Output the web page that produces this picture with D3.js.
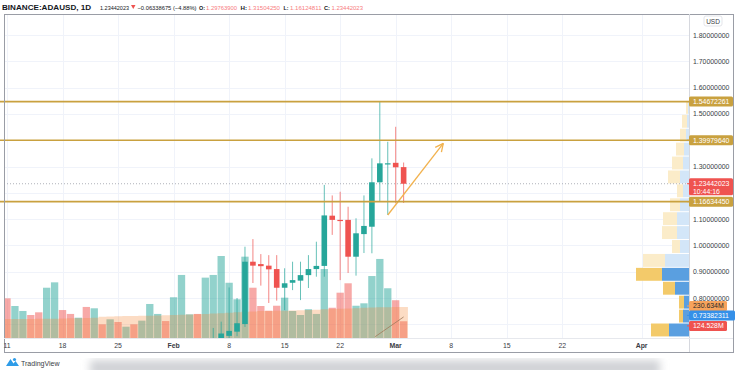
<!DOCTYPE html>
<html><head><meta charset="utf-8">
<script src="https://cdn.jsdelivr.net/npm/d3@7"></script>
<style>html,body{margin:0;padding:0;background:#fff;}svg{display:block;font-family:"Liberation Sans",Arial,sans-serif;}</style>
</head><body><svg id="c" width="736" height="370"></svg>
<script>
// ---------- DATA ----------
const volumeDates = ["2021-01-11","2021-01-12","2021-01-13","2021-01-14","2021-01-15","2021-01-16","2021-01-17","2021-01-18","2021-01-19","2021-01-20",
"2021-01-21","2021-01-22","2021-01-23","2021-01-24","2021-01-25","2021-01-26","2021-01-27","2021-01-28","2021-01-29","2021-01-30",
"2021-01-31","2021-02-01","2021-02-02","2021-02-03","2021-02-04","2021-02-05","2021-02-06","2021-02-07","2021-02-08","2021-02-09",
"2021-02-10","2021-02-11","2021-02-12","2021-02-13","2021-02-14","2021-02-15","2021-02-16","2021-02-17","2021-02-18","2021-02-19",
"2021-02-20","2021-02-21","2021-02-22","2021-02-23","2021-02-24","2021-02-25","2021-02-26","2021-02-27","2021-02-28","2021-03-01","2021-03-02"];
// volume in millions
const volume = [295,238,201,171,191,374,414,208,179,151,
231,221,102,139,119,84,102,129,253,179,
126,303,469,176,179,449,469,610,411,288,
605,374,238,203,240,300,201,171,214,179,
513,225,337,407,240,258,461,588,370,281,124.528];
const volumeUp = [0,1,1,0,0,1,1,0,0,1,
0,1,0,1,0,1,0,1,1,1,
0,1,1,1,0,1,1,1,1,1,
1,0,0,0,0,1,1,1,1,1,
1,0,0,0,1,1,1,1,1,0,0];
const volumeMA = [141,141,142,142,143,143,144,145,146,147,
148,150,158,160,162,163,164,165,166,168,
170,171,173,175,177,179,182,185,188,192,
196,198,200,201,202,203,205,207,209,211,
214,216,218,220,222,225,227,228,229,230,230.634];

const candleDates = ["2021-02-06","2021-02-07","2021-02-08","2021-02-09","2021-02-10","2021-02-11","2021-02-12","2021-02-13","2021-02-14","2021-02-15",
"2021-02-16","2021-02-17","2021-02-18","2021-02-19","2021-02-20","2021-02-21","2021-02-22","2021-02-23","2021-02-24","2021-02-25",
"2021-02-26","2021-02-27","2021-02-28","2021-03-01","2021-03-02"];
const open  = [0.600,0.645,0.656,0.672,0.701,0.938,0.929,0.923,0.910,0.839,0.858,0.866,0.887,0.910,0.922,1.113,1.097,1.097,0.957,1.043,1.071,1.240,1.3118,1.314,1.29763900];
const high  = [0.686,0.710,0.840,0.800,0.995,1.024,0.967,0.963,0.963,0.913,0.938,0.938,0.963,1.014,1.230,1.190,1.204,1.147,1.103,1.190,1.331,1.546,1.394,1.451,1.31504250];
const low   = [0.580,0.610,0.630,0.655,0.690,0.857,0.847,0.781,0.790,0.754,0.830,0.792,0.838,0.881,0.881,1.040,0.868,0.895,0.885,0.971,0.970,1.166,1.116,1.160,1.16124811];
const close = [0.640,0.665,0.675,0.704,0.938,0.923,0.921,0.909,0.839,0.856,0.868,0.887,0.910,0.922,1.114,1.097,1.094,0.957,1.046,1.074,1.240,1.312,1.3122,1.297,1.23442023];

const priceTicks = [0.8,0.9,1.0,1.1,1.3,1.5,1.6,1.7,1.8];
const gridPrices = [0.7,0.8,0.9,1.0,1.1,1.2,1.3,1.4,1.5,1.6,1.7,1.8];
const timeTicks = ["2021-01-11","2021-01-18","2021-01-25","2021-02-01","2021-02-08","2021-02-15","2021-02-22","2021-03-01","2021-03-08","2021-03-15","2021-03-22","2021-04-01"];
const timeTickLabels = ["11","18","25","Feb","8","15","22","Mar","8","15","22","Apr"];

const levels = [1.54672261, 1.39979640, 1.16634450];
const lastPrice = 1.23442023;
const countdown = "10:44:16";
const volMALast = 230.634;
const lastVolume = 124.528;
const crossPrice = 0.73382311;

// visible range volume profile (bottom row first), volume in millions
const profileLow = 0.652, profileStep = 0.0529;
const profileDown = [360,80,100,240,520,440,160,300,280,200,120,240,220,160,120,100,40];
const profileUp   = [400,120,100,280,540,480,180,240,240,180,120,180,120,100,60,40,20];
const valueAreaRows = 5;

const arrowLine = [["2021-02-28T00:00",1.1156],["2021-03-07T00:00",1.388]];
const smallLine = [["2021-02-26T10:00",0.653],["2021-03-02T00:00",0.728]];

const header = {symbol:"BINANCE:ADAUSD, 1D", last:"1.23442023", change:"\u22120.06338675 (\u22124.88%)",
  O:"1.29763900", H:"1.31504250", L:"1.16124811", C:"1.23442023"};

// ---------- CHART ----------
const svg = d3.select("#c");
const parse = d3.utcParse("%Y-%m-%d");
const parseT = d3.utcParse("%Y-%m-%dT%H:%M");
const L = 4, T = 14, AX = 689, R = 733, TB = 338, B = 352;
const x = d3.scaleUtc().domain([parse("2021-01-11"), parse("2021-04-01")]).range([7, 641.6]);
const y = d3.scaleLinear().domain([0.8, 1.8]).range([298, 35]);
const yVol = d3.scaleLinear().domain([0, 610]).range([TB, 256]);
const vpX = d3.scaleLinear().domain([0, 1060]).range([0, 53]);

const UP = "#26a69a", DN = "#ef5350", GOLD = "#c9a13f";

svg.append("defs").html(`
 <clipPath id="plot"><rect x="${L+1}" y="${T+1}" width="${AX-L-1}" height="${TB-T-1}"/></clipPath>
 <filter id="blur"><feGaussianBlur stdDeviation="4"/></filter>`);

// bottom shadow
svg.append("rect").attr("x",90).attr("y",360).attr("width",570).attr("height",16)
  .attr("fill","#d0d2d6").attr("filter","url(#blur)");
svg.append("rect").attr("x",0).attr("y",0).attr("width",736).attr("height",355).attr("fill","#fff");

const plot = svg.append("g").attr("clip-path","url(#plot)");

// grid
plot.selectAll(".hg").data(gridPrices).join("line")
  .attr("x1",L).attr("x2",AX).attr("y1",d=>Math.round(y(d))+0.5).attr("y2",d=>Math.round(y(d))+0.5)
  .attr("stroke","#f0f3fa").attr("stroke-width",1);
plot.selectAll(".vg").data(timeTicks).join("line")
  .attr("y1",T).attr("y2",TB).attr("x1",d=>Math.round(x(parse(d)))+0.5).attr("x2",d=>Math.round(x(parse(d)))+0.5)
  .attr("stroke","#f0f3fa").attr("stroke-width",1);

// volume bars
plot.selectAll(".vb").data(volume).join("rect")
  .attr("x",(d,i)=>x(parse(volumeDates[i]))-3.65).attr("width",7.3)
  .attr("y",d=>yVol(d)).attr("height",d=>TB-yVol(d))
  .attr("fill",(d,i)=>volumeUp[i]?"rgba(38,166,154,0.5)":"rgba(239,83,80,0.5)");

// volume MA area
const maData = volumeMA.concat([volumeMA[volumeMA.length-1]]);
const maDates = volumeDates.concat(["2021-03-03"]);
plot.append("path").datum(maData)
  .attr("d", d3.area().x((d,i)=>x(parse(maDates[i]))-3.65).y0(TB).y1(d=>yVol(d)).curve(d3.curveStepAfter))
  .attr("fill","rgba(245,140,60,0.3)");

// volume profile
const rows = profileDown.map((d,i)=>({i, down:d, up:profileUp[i]}));
const rowTop = i => y(profileLow + (i+1)*profileStep);
const rowBot = i => y(profileLow + i*profileStep);
plot.selectAll(".vpu").data(rows).join("rect")
  .attr("x",d=>AX-vpX(d.up)).attr("width",d=>vpX(d.up))
  .attr("y",d=>rowTop(d.i)+0.5).attr("height",d=>rowBot(d.i)-rowTop(d.i)-1)
  .attr("fill",d=>d.i<valueAreaRows?"#5a9fe0":"#d3e6f8");
plot.selectAll(".vpd").data(rows).join("rect")
  .attr("x",d=>AX-vpX(d.up)-vpX(d.down)).attr("width",d=>vpX(d.down))
  .attr("y",d=>rowTop(d.i)+0.5).attr("height",d=>rowBot(d.i)-rowTop(d.i)-1)
  .attr("fill",d=>d.i<valueAreaRows?"#f3ca6a":"#fbecc9");

// last price dotted line
plot.append("line").attr("x1",L).attr("x2",AX).attr("y1",y(lastPrice)).attr("y2",y(lastPrice))
  .attr("stroke","#9a9ea8").attr("stroke-width",0.8).attr("stroke-dasharray","1,2");

// level lines
svg.selectAll(".lvl").data(levels).join("line")
  .attr("x1",0).attr("x2",AX).attr("y1",d=>y(d)).attr("y2",d=>y(d))
  .attr("stroke",GOLD).attr("stroke-width",1.6);

// candles
const candles = candleDates.map((d,i)=>({t:parse(d),o:open[i],h:high[i],l:low[i],c:close[i]}));
const cg = plot.selectAll(".cd").data(candles).join("g");
cg.append("line").attr("x1",d=>x(d.t)).attr("x2",d=>x(d.t)).attr("y1",d=>y(d.h)).attr("y2",d=>y(d.l))
  .attr("stroke",d=>d.c>=d.o?UP:DN).attr("stroke-width",1).attr("stroke-opacity",0.7);
cg.append("rect").attr("x",d=>x(d.t)-2.8).attr("width",5.6)
  .attr("y",d=>y(Math.max(d.o,d.c))).attr("height",d=>Math.max(1.2,Math.abs(y(d.o)-y(d.c))))
  .attr("fill",d=>d.c>=d.o?UP:DN);

// arrow drawing
const ap = arrowLine.map(d=>[x(parseT(d[0])), y(d[1])]);
const ARC = "#f2b24e";
plot.append("line").attr("x1",ap[0][0]).attr("y1",ap[0][1]).attr("x2",ap[1][0]).attr("y2",ap[1][1])
  .attr("stroke",ARC).attr("stroke-width",1.3);
{
  const ang = Math.atan2(ap[1][1]-ap[0][1], ap[1][0]-ap[0][0]);
  const len = 9, spread = 0.45;
  [ang+Math.PI-spread, ang+Math.PI+spread].forEach(a=>{
    plot.append("line").attr("x1",ap[1][0]).attr("y1",ap[1][1])
      .attr("x2",ap[1][0]+len*Math.cos(a)).attr("y2",ap[1][1]+len*Math.sin(a))
      .attr("stroke",ARC).attr("stroke-width",1.3);
  });
}
const sp = smallLine.map(d=>[x(parseT(d[0])), y(d[1])]);
plot.append("line").attr("x1",sp[0][0]).attr("y1",sp[0][1]).attr("x2",sp[1][0]).attr("y2",sp[1][1])
  .attr("stroke","#a07a5a").attr("stroke-width",0.8);

// frame
const fr = svg.append("g").attr("fill","none");
fr.append("rect").attr("x",L+0.5).attr("y",T+0.5).attr("width",R-L).attr("height",B-T).attr("stroke","#9a9da6");
fr.append("line").attr("x1",AX+0.5).attr("x2",AX+0.5).attr("y1",T).attr("y2",B).attr("stroke","#d6d8de");
fr.append("line").attr("x1",L).attr("x2",R).attr("y1",TB+0.5).attr("y2",TB+0.5).attr("stroke","#e6e8ed");

// price axis labels
svg.selectAll(".pt").data(priceTicks).join("text")
  .attr("x",AX+4).attr("y",d=>y(d)+2.5).attr("font-size",6.9).attr("fill","#3a3d45")
  .text(d=>d.toFixed(8));
svg.append("rect").attr("x",704).attr("y",16).attr("width",18).attr("height",10).attr("rx",2)
  .attr("fill","#fff").attr("stroke","#e3e5ea");
svg.append("text").attr("x",713).attr("y",23.5).attr("text-anchor","middle").attr("font-size",6.5).attr("fill","#3a3d45").text("USD");

// time axis labels
svg.selectAll(".tt").data(timeTicks).join("text")
  .attr("x",d=>x(parse(d))).attr("y",347.5).attr("text-anchor","middle").attr("font-size",6.9)
  .attr("fill","#3a3d45").attr("font-weight",(d,i)=>/[A-Za-z]/.test(timeTickLabels[i])?"bold":"normal")
  .text((d,i)=>timeTickLabels[i]);

// tags
function tag(cy, lines, bg, fg, w){
  const h = lines.length>1 ? 17 : 10;
  const g = svg.append("g");
  g.append("rect").attr("x",AX).attr("y",cy-(lines.length>1?5.5:h/2)).attr("width",w).attr("height",h).attr("rx",1.5).attr("fill",bg);
  g.append("line").attr("x1",AX-2).attr("x2",AX+2).attr("y1",cy).attr("y2",cy).attr("stroke",bg);
  lines.forEach((t,k)=>g.append("text").attr("x",AX+4).attr("y",cy+2.5+k*8).attr("font-size",6.9).attr("fill",fg).text(t));
}
levels.forEach(l=>tag(y(l), [l.toFixed(8)], GOLD, "#fff", 44));
tag(y(lastPrice), [lastPrice.toFixed(8), countdown], "#ef5350", "#fff", 44);
tag(yVol(volMALast)-1, [volMALast.toFixed(3)+"M"], "#f7a35c", "#2a2a2a", 38);
tag(y(crossPrice), [crossPrice.toFixed(8)], "#3590e8", "#fff", 46);
tag(y(crossPrice)+10.5, [lastVolume.toFixed(3)+"M"], "#ef5350", "#fff", 38);

// header: [x start, target width, text, colour, weight]
const hy = 9.5;
const hp = [
  [2, 94, header.symbol, "#131722", "bold"],
  [100, 29, header.last, "#131722", "normal"],
  [137.5, 59, header.change, "#131722", "normal"],
  [199, 6, "O:", "#131722", "bold"], [206, 31, header.O, "#f77c80", "normal"],
  [240.5, 6.5, "H:", "#131722", "bold"], [248, 32, header.H, "#f77c80", "normal"],
  [283.5, 5, "L:", "#131722", "bold"], [290, 31.5, header.L, "#f77c80", "normal"],
  [324, 6, "C:", "#131722", "bold"], [331.5, 31.5, header.C, "#f77c80", "normal"],
];
hp.forEach(p=>{
  const t = svg.append("text").attr("x",p[0]).attr("y",hy).attr("font-size",7)
    .attr("fill",p[3]).attr("font-weight",p[4]).text(p[2]);
  const len = t.node().getComputedTextLength();
  const fs = Math.min(7.5, 7*p[1]/len*0.98);
  t.attr("font-size",fs);
  const len2 = t.node().getComputedTextLength();
  t.attr("textLength",Math.min(p[1],len2*1.08)).attr("lengthAdjust","spacingAndGlyphs");
});
svg.append("path").attr("d","M131,5 L135.5,5 L133.25,9 Z").attr("fill","#ef5350");

// TradingView logo
const lg = svg.append("g");
lg.append("path").attr("d","M6,366 L10.5,359 L13.5,363.5 L15.5,361 L19,366 Z").attr("fill","#2e9ce8");
lg.append("circle").attr("cx",14.5).attr("cy",359.5).attr("r",1.6).attr("fill","#2e9ce8");
lg.append("text").attr("x",21).attr("y",366).attr("font-size",7).attr("fill","#3a3d45").text("TradingView");
</script></body></html>
